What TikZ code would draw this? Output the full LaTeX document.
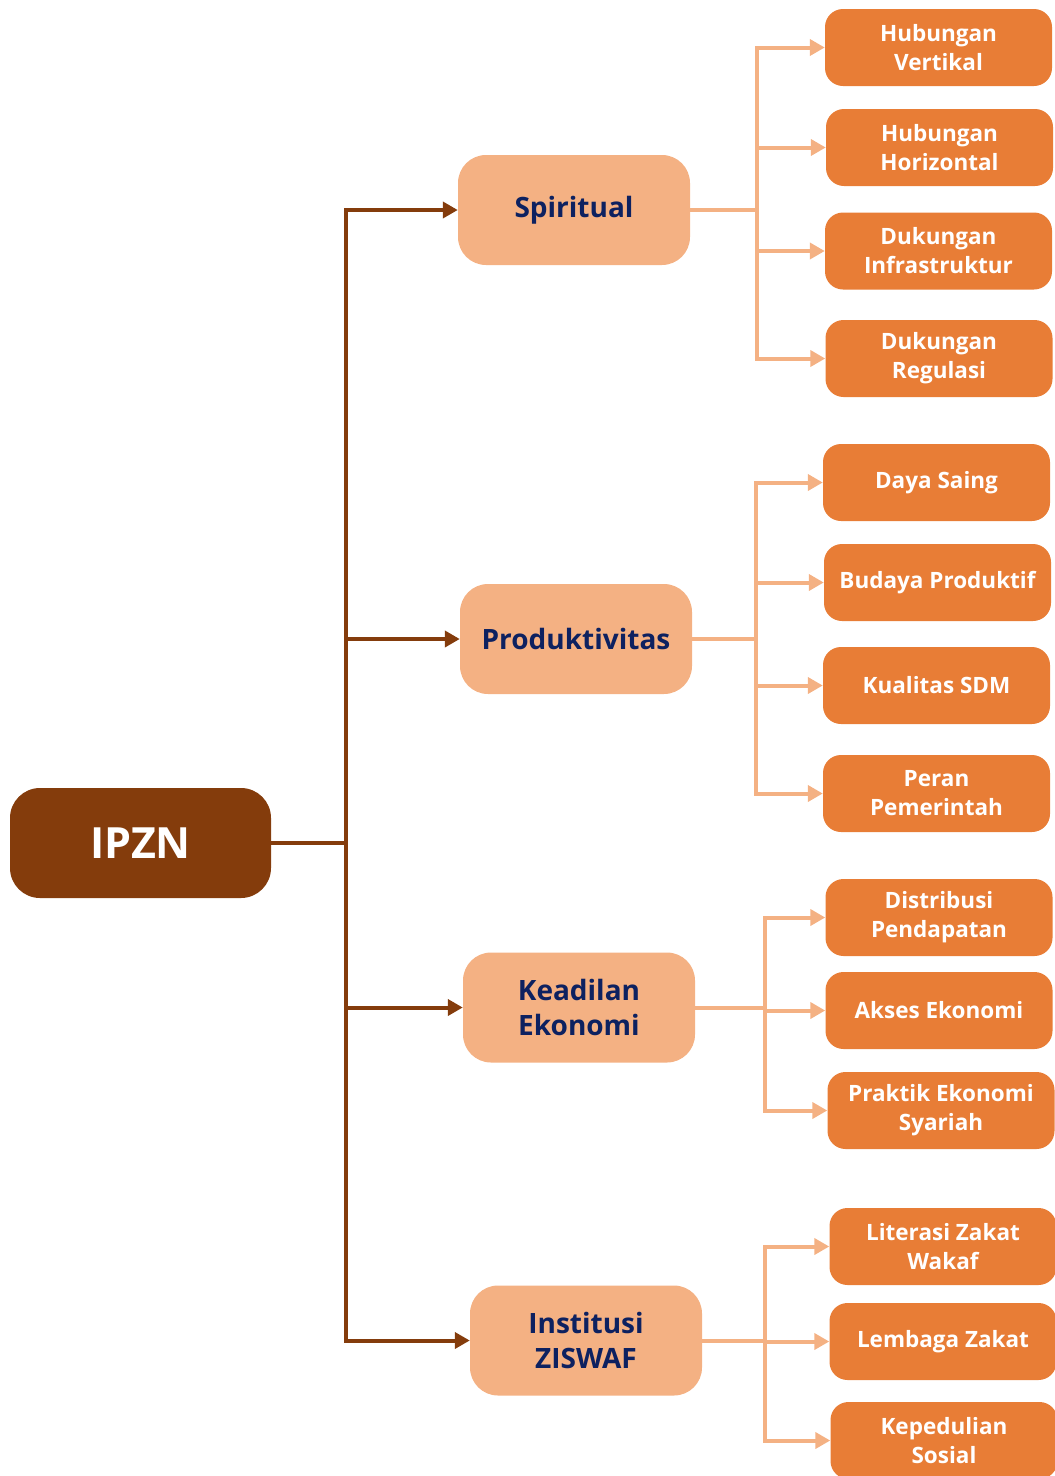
\documentclass[tikz,border=0pt]{standalone}
\usepackage{fontspec}
\setmainfont{Open Sans}
\usetikzlibrary{arrows.meta}

\definecolor{ipznbrown}{HTML}{843C0C}
\definecolor{catfill}{HTML}{F4B183}
\definecolor{leaffill}{HTML}{E87D36}
\definecolor{catnavy}{HTML}{0D2160}

\begin{document}
\begin{tikzpicture}[x=1pt,y=-1pt,
    rootbox/.style={fill=ipznbrown,text=white,rounded corners=30pt,minimum width=261pt,minimum height=110pt,inner sep=0pt,font=\fontsize{43}{50}\selectfont\bfseries},
    catbox/.style={fill=catfill,text=catnavy,rounded corners=28pt,minimum width=232pt,minimum height=110pt,inner sep=0pt,align=center,font=\fontsize{28}{35}\selectfont\bfseries},
    leafbox/.style={fill=leaffill,text=white,rounded corners=18pt,minimum width=227pt,minimum height=77pt,inner sep=0pt,align=center,font=\fontsize{22.5}{29}\selectfont\bfseries},
    mainline/.style={draw=ipznbrown,line width=4pt},
    subline/.style={draw=catfill,line width=4pt},
    arrowtip/.style={-{Triangle[length=15pt,width=16pt]}}]
  \useasboundingbox (0,0) rectangle (1055,1476);

  % root and categories
  \node[rootbox] (ipzn) at (140.5,843) {IPZN};
  \node[catbox] (spi) at (574,210) {Spiritual};
  \node[catbox] (pro) at (576,639) {Produktivitas};
  \node[catbox] (kea) at (579,1007.5) {Keadilan\\Ekonomi};
  \node[catbox] (ins) at (586,1340.5) {Institusi\\ZISWAF};

  % leaves
  \node[leafbox] (spi1) at (938.5,47.5) {Hubungan\\Vertikal};
  \node[leafbox] (spi2) at (939.5,147.5) {Hubungan\\Horizontal};
  \node[leafbox] (spi3) at (938.5,251) {Dukungan\\Infrastruktur};
  \node[leafbox] (spi4) at (939,358.5) {Dukungan\\Regulasi};
  \node[leafbox] (pro1) at (936.5,482.5) {Daya Saing};
  \node[leafbox] (pro2) at (937.5,582.5) {Budaya Produktif};
  \node[leafbox] (pro3) at (936.5,685.5) {Kualitas SDM};
  \node[leafbox] (pro4) at (936.5,793.5) {Peran\\Pemerintah};
  \node[leafbox] (kea1) at (939,917.5) {Distribusi\\Pendapatan};
  \node[leafbox] (kea2) at (939,1010.5) {Akses Ekonomi};
  \node[leafbox] (kea3) at (941,1110.5) {Praktik Ekonomi\\Syariah};
  \node[leafbox] (ins1) at (943,1246.5) {Literasi Zakat\\Wakaf};
  \node[leafbox] (ins2) at (943,1341.5) {Lembaga Zakat};
  \node[leafbox] (ins3) at (944,1440.5) {Kepedulian\\Sosial};

  % main trunk
  \coordinate (trunk) at (346,843);
  \draw[mainline] (ipzn) -- (trunk);
  \foreach \c in {spi,pro,kea,ins}
    \draw[mainline,arrowtip] (trunk) |- (\c.west);

  % branches
  \coordinate (spibus) at (757,210);
  \coordinate (probus) at (756,639);
  \coordinate (keabus) at (765,1007.5);
  \coordinate (insbus) at (765,1340.5);
  \foreach \c in {spi,pro,kea,ins}
    \draw[subline] (\c) -- (\c bus);
  \foreach \l in {spi1,spi2,spi3,spi4}
    \draw[subline,arrowtip] (spibus) |- (\l.west);
  \foreach \l in {pro1,pro2,pro3,pro4}
    \draw[subline,arrowtip] (probus) |- (\l.west);
  \foreach \l in {kea1,kea2,kea3}
    \draw[subline,arrowtip] (keabus) |- (\l.west);
  \foreach \l in {ins1,ins2,ins3}
    \draw[subline,arrowtip] (insbus) |- (\l.west);
\end{tikzpicture}
\end{document}
